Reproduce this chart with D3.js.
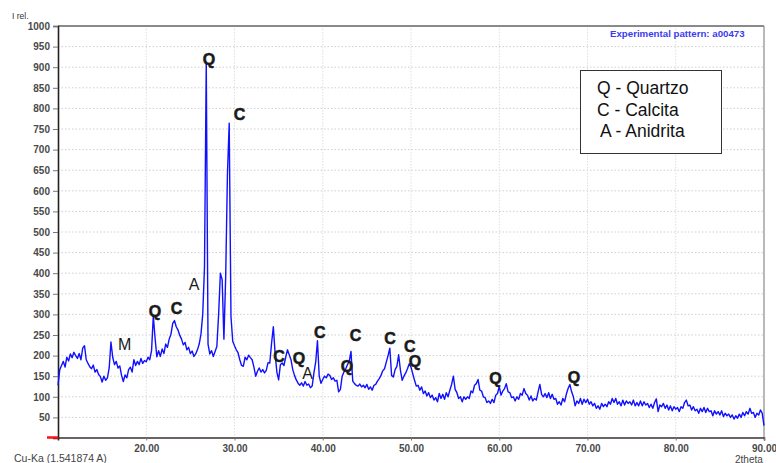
<!DOCTYPE html>
<html>
<head>
<meta charset="utf-8">
<script src="https://cdn.jsdelivr.net/npm/d3@7"></script>
<style>
  body { margin: 0; background: #fff; }
  svg { display: block; }
  text { font-family: "Liberation Sans", Arial, sans-serif; }
</style>
</head>
<body>
<script>
// diffractogram, every 0.2 deg 2theta starting at 10
var startTheta = 10, stepTheta = 0.2;
var intensity = [
  128, 166, 176, 186, 172, 196, 187, 204, 195, 208,
  200, 193, 205, 190, 218, 224, 190, 181, 173, 168,
  177, 160, 166, 154, 149, 136, 150, 140, 146, 170,
  233, 196, 178, 186, 170, 175, 152, 137, 153, 146,
  166, 172, 160, 190, 176, 186, 178, 193, 181, 188,
  185, 196, 190, 212, 296, 242, 197, 212, 198, 216,
  205, 228, 220, 240, 252, 278, 285, 270, 262, 249,
  240, 226, 232, 214, 220, 205, 211, 198, 204, 214,
  228, 252, 300, 415, 912, 228, 204, 212, 198, 210,
  222, 300, 400, 384, 240, 390, 640, 764, 295, 235,
  224, 214, 207, 190, 176, 174, 196, 190, 201, 195,
  190, 172, 150, 162, 170, 160, 166, 158, 164, 183,
  182, 230, 270, 206, 160, 141, 178, 182, 176, 196,
  214, 202, 190, 166, 152, 141, 133, 128, 134, 126,
  137, 128, 131, 122, 126, 158, 184, 236, 150, 133,
  142, 150, 146, 155, 152, 142, 146, 138, 140, 112,
  118, 150, 160, 168, 178, 186, 210, 138, 132, 128,
  126, 131, 124, 128, 122, 130, 118, 124, 116, 128,
  130, 138, 144, 152, 163, 168, 184, 200, 218, 152,
  148, 166, 174, 202, 165, 140, 150, 158, 168, 180,
  172, 156, 140, 126, 128, 116, 124, 108, 114, 102,
  110, 98, 104, 92, 98, 88, 108, 96, 106, 94,
  110, 100, 116, 130, 150, 118, 110, 96, 100, 88,
  100, 94, 100, 96, 114, 110, 128, 132, 142, 116,
  114, 100, 98, 86, 90, 84, 94, 86, 104, 108,
  125, 104, 114, 120, 132, 112, 110, 98, 100, 90,
  100, 94, 108, 104, 120, 108, 104, 92, 102, 90,
  96, 92, 112, 130, 106, 100, 108, 98, 110, 96,
  106, 94, 96, 82, 88, 80, 96, 88, 106, 120,
  130, 112, 100, 78, 90, 84, 96, 82, 94, 86,
  94, 82, 88, 78, 84, 72, 78, 70, 84, 76,
  82, 76, 88, 82, 96, 86, 96, 82, 88, 78,
  92, 80, 90, 84, 88, 80, 92, 78, 86, 78,
  90, 78, 88, 80, 84, 74, 82, 72, 86, 95,
  64, 80, 76, 84, 72, 80, 68, 78, 66, 76,
  70, 74, 64, 76, 72, 86, 92, 78, 80, 68,
  76, 66, 70, 60, 72, 64, 74, 62, 72, 64,
  66, 54, 66, 58, 64, 56, 66, 52, 60, 54,
  58, 50, 56, 46, 54, 48, 58, 50, 62, 54,
  64, 58, 72, 60, 62, 50, 60, 56, 68, 60,
  30
];

var xTicks = [20, 30, 40, 50, 60, 70, 80, 90];
var yTicks = [50, 100, 150, 200, 250, 300, 350, 400, 450, 500,
              550, 600, 650, 700, 750, 800, 850, 900, 950, 1000];

// phase marks: letter, 2theta and intensity level where the letter sits
var peakLabels = ["Q", "C", "A", "Q", "C", "M", "C", "Q", "A", "C", "Q", "C", "C", "C", "Q", "Q", "Q"];
var peakTheta  = [27.11, 30.57, 25.41, 20.99, 23.43, 17.56, 35.04, 37.31, 38.27, 39.65, 42.75, 43.71, 47.62, 49.85, 50.45, 59.58, 68.47];
var peakLevel  = [920, 786, 374, 308, 316, 228, 199, 194, 157, 256, 175, 250, 243, 223, 187, 144, 147];

var legendItems = ["Q - Quartzo", "C - Calcita", "A - Anidrita"];

var width = 776, height = 463;
var plotLeft = 58, plotRight = 764, plotTop = 26, plotBottom = 438;

var svg = d3.select("body").append("svg")
    .attr("width", width)
    .attr("height", height);

var x = d3.scaleLinear().domain([10, 90]).range([plotLeft, plotRight]);
var y = d3.scaleLinear().domain([0, 1000]).range([plotBottom, plotTop]);

// grid
svg.append("g")
  .selectAll("line")
  .data(yTicks.slice(0, -1))
  .enter().append("line")
    .attr("x1", plotLeft).attr("x2", plotRight)
    .attr("y1", function(d) { return y(d); })
    .attr("y2", function(d) { return y(d); })
    .attr("stroke", "#cfcfcf")
    .attr("stroke-dasharray", "1.5,2");

svg.append("g")
  .selectAll("line")
  .data(xTicks.slice(0, -1))
  .enter().append("line")
    .attr("x1", function(d) { return x(d); })
    .attr("x2", function(d) { return x(d); })
    .attr("y1", plotTop).attr("y2", plotBottom)
    .attr("stroke", "#dedede")
    .attr("stroke-dasharray", "1.5,1.5");

// frame
svg.append("line")
    .attr("x1", plotLeft).attr("x2", plotRight).attr("y1", plotTop).attr("y2", plotTop)
    .attr("stroke", "#8a8a8a").attr("stroke-width", 2);
svg.append("line")
    .attr("x1", plotRight).attr("x2", plotRight).attr("y1", plotTop).attr("y2", plotBottom)
    .attr("stroke", "#8a8a8a").attr("stroke-width", 1.2);

// axes
var yAxis = svg.append("g")
    .attr("transform", "translate(" + plotLeft + ",0)")
    .call(d3.axisLeft(y).tickValues(yTicks).tickSize(5).tickPadding(3)
      .tickFormat(d3.format("d")));
yAxis.select(".domain").attr("stroke", "#222").attr("stroke-width", 1.6);

var xAxis = svg.append("g")
    .attr("transform", "translate(0," + (plotBottom - 0.5) + ")")
    .call(d3.axisBottom(x).tickValues(xTicks).tickSize(3).tickPadding(4)
      .tickFormat(d3.format(".2f")));
xAxis.select(".domain").attr("stroke", "#3a3030").attr("stroke-width", 1.6);

svg.selectAll(".tick line").attr("stroke", "#777");
svg.selectAll(".tick text")
    .attr("fill", "#4a4a4a")
    .style("font-size", "10px")
    .style("font-weight", "bold")
    .style("font-family", "'Liberation Sans', Arial, sans-serif");

svg.append("line")
    .attr("x1", plotLeft - 11).attr("x2", plotLeft)
    .attr("y1", plotBottom - 0.5).attr("y2", plotBottom - 0.5)
    .attr("stroke", "#ff1010").attr("stroke-width", 2.5);

// pattern
var line = d3.line()
    .x(function(d, i) { return x(startTheta + i * stepTheta); })
    .y(function(d) { return y(d); });

svg.append("path")
    .datum(intensity)
    .attr("d", line)
    .attr("fill", "none")
    .attr("stroke", "#1010ff")
    .attr("stroke-width", 1.4)
    .attr("stroke-linejoin", "round");

// phase letters
svg.append("g")
  .selectAll("text")
  .data(peakLabels)
  .enter().append("text")
    .attr("x", function(d, i) { return x(peakTheta[i]); })
    .attr("y", function(d, i) { return y(peakLevel[i]); })
    .attr("dy", "0.36em")
    .attr("text-anchor", "middle")
    .style("font-size", "16px")
    .style("font-weight", function(d) { return d === "A" || d === "M" ? "normal" : "bold"; })
    .attr("fill", "#1a1a1a")
    .attr("stroke", function(d) { return d === "A" || d === "M" ? "none" : "#1a1a1a"; })
    .attr("stroke-width", 0.5)
    .text(function(d) { return d; });

// texts
svg.append("text").attr("x", 12).attr("y", 19)
    .style("font-size", "8.5px").attr("fill", "#333").text("I rel.");
svg.append("text").attr("x", 14).attr("y", 461.5)
    .style("font-size", "10.5px").attr("fill", "#444").text("Cu-Ka (1.541874 A)");
svg.append("text").attr("x", 735).attr("y", 462.5)
    .style("font-size", "10px").attr("fill", "#444").text("2theta");
svg.append("text").attr("x", 610).attr("y", 37)
    .style("font-size", "9.7px").style("font-weight", "bold")
    .attr("fill", "#3b3bf0").text("Experimental pattern: a00473");

// legend box
var legend = svg.append("g");
legend.append("rect")
    .attr("x", 580.5).attr("y", 70.5)
    .attr("width", 141).attr("height", 83)
    .attr("fill", "#fff").attr("stroke", "#333").attr("stroke-width", 1);
legend.selectAll("text")
  .data(legendItems)
  .enter().append("text")
    .attr("x", function(d, i) { return i === 2 ? 600 : 597; })
    .attr("y", function(d, i) { return 94 + i * 21.5; })
    .style("font-size", "17.5px")
    .attr("fill", "#111")
    .text(function(d) { return d; });
</script>
</body>
</html>
